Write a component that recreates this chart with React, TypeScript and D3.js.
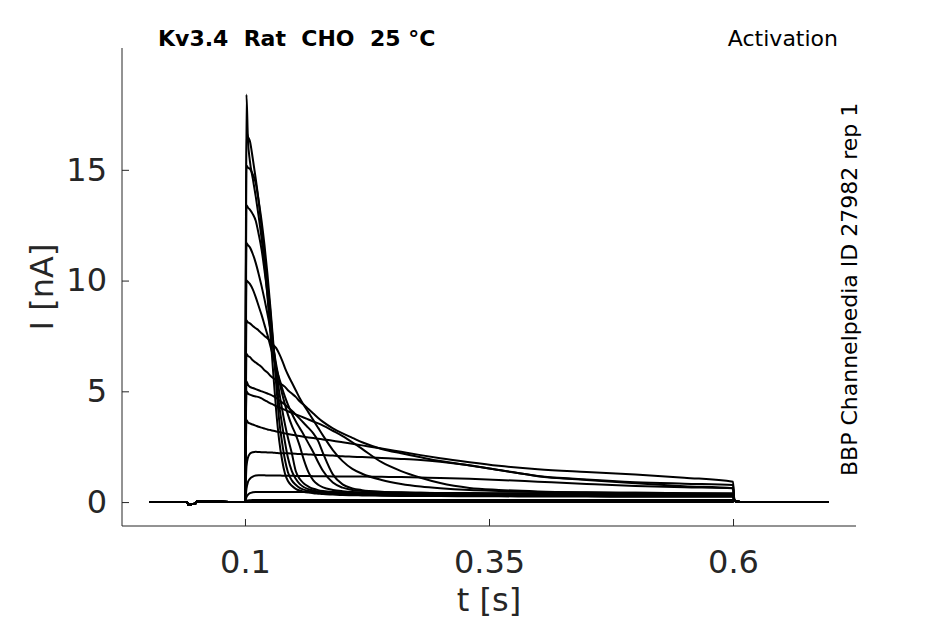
import React, { useEffect, useRef } from 'react';
import * as d3 from 'd3';

// holding potential before the step (shared by all sweeps)
const holdTime = [0.002, 0.0405, 0.042, 0.046, 0.0495, 0.051, 0.1];
const holdCurrent = [0, 0, -0.12, -0.09, -0.06, 0.04, 0];

// sample times during the test pulse [s]
const stepTime = [
  0.1015, 0.103, 0.105, 0.108, 0.111, 0.114, 0.117, 0.12, 0.123, 0.126, 0.129, 0.132, 0.135,
  0.138, 0.141, 0.144, 0.148, 0.152, 0.156, 0.16, 0.165, 0.17, 0.175, 0.18, 0.19, 0.2, 0.21,
  0.22, 0.24, 0.26, 0.28, 0.3, 0.33, 0.36, 0.4, 0.45, 0.5, 0.55, 0.6,
];

// currents during the pulse [nA], one array per sweep
const sweep1 = [18.4, 16.4, 15.4, 14.6, 13.8, 12.9, 11.9, 10.7, 9.3, 7.6, 5.8, 4.1, 2.8, 1.9, 1.28, 0.95, 0.74, 0.6, 0.52, 0.47, 0.43, 0.4, 0.38, 0.36, 0.34, 0.32, 0.31, 0.3, 0.29, 0.28, 0.27, 0.27, 0.26, 0.26, 0.25, 0.25, 0.24, 0.24, 0.24];
const sweep2 = [16.7, 16.5, 16.3, 15.5, 14.6, 13.6, 12.4, 11.1, 9.9, 8.6, 7.0, 5.3, 3.7, 2.7, 1.9, 1.35, 0.98, 0.78, 0.64, 0.56, 0.5, 0.46, 0.43, 0.41, 0.38, 0.36, 0.34, 0.33, 0.31, 0.3, 0.3, 0.29, 0.28, 0.28, 0.27, 0.27, 0.26, 0.26, 0.26];
const sweep3 = [15.2, 15.1, 15.05, 14.8, 14.4, 13.6, 12.7, 11.6, 10.3, 8.8, 7.2, 5.7, 4.4, 3.5, 2.7, 2.0, 1.4, 1.05, 0.82, 0.68, 0.58, 0.52, 0.48, 0.45, 0.41, 0.38, 0.36, 0.35, 0.33, 0.32, 0.31, 0.3, 0.3, 0.29, 0.29, 0.28, 0.28, 0.27, 0.27];
const sweep4 = [13.4, 13.3, 13.2, 13.0, 12.7, 12.1, 11.4, 10.45, 9.4, 8.1, 7.0, 6.0, 5.0, 4.2, 3.5, 2.9, 2.2, 1.4, 1.05, 0.85, 0.7, 0.6, 0.54, 0.5, 0.45, 0.42, 0.4, 0.38, 0.36, 0.34, 0.33, 0.32, 0.31, 0.31, 0.3, 0.3, 0.29, 0.29, 0.29];
const sweep5 = [11.7, 11.6, 11.5, 11.2, 10.8, 10.3, 9.75, 9.15, 8.5, 7.8, 7.0, 6.2, 5.5, 4.9, 4.4, 3.95, 3.45, 3.05, 2.55, 1.95, 1.35, 0.98, 0.78, 0.66, 0.55, 0.49, 0.45, 0.43, 0.4, 0.38, 0.36, 0.35, 0.34, 0.33, 0.33, 0.32, 0.32, 0.31, 0.31];
const sweep6 = [10.0, 9.95, 9.85, 9.6, 9.25, 8.85, 8.45, 8.0, 7.55, 7.05, 6.55, 6.05, 5.6, 5.15, 4.75, 4.4, 4.0, 3.65, 3.35, 3.05, 2.65, 2.25, 1.8, 1.4, 0.88, 0.65, 0.55, 0.5, 0.45, 0.42, 0.4, 0.38, 0.37, 0.36, 0.35, 0.34, 0.34, 0.33, 0.33];
const sweep7 = [8.2, 8.12, 8.07, 7.95, 7.85, 7.75, 7.62, 7.5, 7.4, 7.25, 7.1, 6.95, 6.7, 6.4, 6.05, 5.75, 5.4, 5.05, 4.7, 4.4, 4.05, 3.7, 3.35, 3.0, 2.35, 1.85, 1.5, 1.28, 1.0, 0.82, 0.7, 0.62, 0.54, 0.5, 0.46, 0.43, 0.42, 0.4, 0.39];
const sweep8 = [6.7, 6.6, 6.55, 6.4, 6.3, 6.2, 6.1, 5.95, 5.85, 5.7, 5.6, 5.5, 5.4, 5.3, 5.2, 5.05, 4.9, 4.75, 4.55, 4.4, 4.2, 4.0, 3.8, 3.62, 3.33, 3.1, 2.9, 2.7, 2.4, 2.2, 2.02, 1.85, 1.65, 1.45, 1.17, 1.0, 0.85, 0.72, 0.62];
const sweep9 = [5.45, 5.3, 5.2, 5.15, 5.1, 5.05, 5.0, 4.95, 4.9, 4.85, 4.78, 4.7, 4.6, 4.5, 4.4, 4.28, 4.12, 3.95, 3.77, 3.58, 3.35, 3.1, 2.75, 2.2, 1.25, 0.8, 0.62, 0.54, 0.47, 0.44, 0.42, 0.41, 0.4, 0.39, 0.38, 0.37, 0.36, 0.36, 0.35];
const sweep10 = [5.0, 4.9, 4.85, 4.8, 4.77, 4.74, 4.68, 4.6, 4.53, 4.46, 4.4, 4.33, 4.28, 4.22, 4.16, 4.1, 4.03, 3.96, 3.89, 3.82, 3.73, 3.64, 3.55, 3.45, 3.22, 2.98, 2.7, 2.4, 1.8, 1.4, 1.1, 0.86, 0.64, 0.55, 0.48, 0.44, 0.42, 0.4, 0.39];
const sweep11 = [3.7, 3.6, 3.55, 3.5, 3.45, 3.4, 3.36, 3.32, 3.28, 3.25, 3.22, 3.19, 3.16, 3.13, 3.1, 3.07, 3.04, 3.01, 2.98, 2.95, 2.92, 2.89, 2.86, 2.83, 2.77, 2.7, 2.63, 2.56, 2.42, 2.27, 2.12, 1.98, 1.8, 1.64, 1.48, 1.36, 1.25, 1.1, 0.92];
const sweep12 = [1.6, 2.0, 2.18, 2.25, 2.27, 2.26, 2.25, 2.25, 2.24, 2.24, 2.23, 2.22, 2.21, 2.21, 2.2, 2.2, 2.19, 2.18, 2.17, 2.16, 2.15, 2.14, 2.13, 2.12, 2.1, 2.07, 2.05, 2.03, 1.99, 1.95, 1.9, 1.82, 1.66, 1.45, 1.18, 1.02, 0.9, 0.83, 0.77];
const sweep13 = [0.6, 0.9, 1.05, 1.15, 1.2, 1.21, 1.21, 1.21, 1.2, 1.2, 1.2, 1.2, 1.2, 1.19, 1.19, 1.19, 1.19, 1.18, 1.18, 1.18, 1.18, 1.17, 1.17, 1.17, 1.16, 1.16, 1.15, 1.15, 1.14, 1.13, 1.11, 1.09, 1.05, 1.0, 0.92, 0.82, 0.73, 0.67, 0.62];
const sweep14 = [0.22, 0.33, 0.4, 0.44, 0.46, 0.46, 0.46, 0.46, 0.46, 0.46, 0.46, 0.46, 0.46, 0.45, 0.45, 0.45, 0.45, 0.45, 0.45, 0.45, 0.45, 0.44, 0.44, 0.44, 0.44, 0.44, 0.43, 0.43, 0.43, 0.42, 0.42, 0.41, 0.41, 0.4, 0.4, 0.39, 0.38, 0.37, 0.36];
const sweep15 = [0.05, 0.07, 0.08, 0.09, 0.09, 0.09, 0.09, 0.09, 0.09, 0.09, 0.09, 0.09, 0.09, 0.09, 0.09, 0.09, 0.09, 0.09, 0.09, 0.09, 0.09, 0.09, 0.09, 0.09, 0.09, 0.09, 0.09, 0.09, 0.09, 0.09, 0.09, 0.09, 0.09, 0.09, 0.09, 0.09, 0.09, 0.09, 0.09];
const sweep16 = [0.02, 0.03, 0.03, 0.03, 0.03, 0.03, 0.03, 0.03, 0.03, 0.03, 0.03, 0.03, 0.03, 0.03, 0.03, 0.03, 0.03, 0.03, 0.03, 0.03, 0.03, 0.03, 0.03, 0.03, 0.03, 0.03, 0.03, 0.03, 0.03, 0.03, 0.03, 0.03, 0.03, 0.03, 0.03, 0.03, 0.03, 0.03, 0.03];
const sweep17 = [0, 0, 0, 0, 0, 0, 0, 0, 0, 0, 0, 0, 0, 0, 0, 0, 0, 0, 0, 0, 0, 0, 0, 0, 0, 0, 0, 0, 0, 0, 0, 0, 0, 0, 0, 0, 0, 0, 0];

// after the pulse, back to holding
const tailTime = [0.6015, 0.605, 0.61, 0.698];
const tailCurrent = [0.06, 0.02, 0, 0];

const sweeps = [
  sweep1, sweep2, sweep3, sweep4, sweep5, sweep6, sweep7, sweep8, sweep9,
  sweep10, sweep11, sweep12, sweep13, sweep14, sweep15, sweep16, sweep17,
];

const xTicks = [0.1, 0.35, 0.6];
const yTicks = [0, 5, 10, 15];

const title = 'Kv3.4  Rat  CHO  25 °C';
const protocol = 'Activation';
const sourceLabel = 'BBP Channelpedia ID 27982 rep 1';

const FONT = '"DejaVu Sans", sans-serif';
const AXIS_COLOR = '#262626';

const App: React.FC = () => {
  const svgRef = useRef<SVGSVGElement>(null);
  const width = 945;
  const height = 624;
  const margin = { top: 48, right: 89, bottom: 98, left: 122 };

  useEffect(() => {
    if (!svgRef.current) return;
    const svg = d3.select(svgRef.current);
    svg.selectAll('*').remove();

    const x = d3.scaleLinear().domain([-0.026, 0.726]).range([margin.left, width - margin.right]);
    const y = d3.scaleLinear().domain([-1.08, 20.5]).range([height - margin.bottom, margin.top]);

    const line = d3
      .line<[number, number]>()
      .x(d => x(d[0]))
      .y(d => y(d[1]))
      .curve(d3.curveMonotoneX);

    const traces = svg.append('g').attr('class', 'traces');
    sweeps.forEach(values => {
      const pts: [number, number][] = [
        ...holdTime.map((t, i) => [t, holdCurrent[i]] as [number, number]),
        ...stepTime.map((t, i) => [t, values[i]] as [number, number]),
        ...tailTime.map((t, i) => [t, tailCurrent[i]] as [number, number]),
      ];
      traces
        .append('path')
        .attr('d', line(pts) || '')
        .attr('fill', 'none')
        .attr('stroke', '#000')
        .attr('stroke-width', 2)
        .attr('stroke-linejoin', 'round');
    });

    // axes, ticks pointing inwards
    const xAxis = d3
      .axisBottom(x)
      .tickValues(xTicks)
      .tickFormat(d => String(d))
      .tickSizeInner(-7)
      .tickSizeOuter(0)
      .tickPadding(24);
    const gx = svg
      .append('g')
      .attr('transform', `translate(0,${height - margin.bottom})`)
      .call(xAxis);

    const yAxis = d3
      .axisLeft(y)
      .tickValues(yTicks)
      .tickFormat(d => String(d))
      .tickSizeInner(-7)
      .tickSizeOuter(0)
      .tickPadding(15);
    const gy = svg.append('g').attr('transform', `translate(${margin.left},0)`).call(yAxis);

    [gx, gy].forEach(g => {
      g.select('.domain').attr('stroke', AXIS_COLOR).attr('stroke-width', 1);
      g.selectAll('.tick line').attr('stroke', AXIS_COLOR).attr('stroke-width', 1);
      g.selectAll('.tick text')
        .attr('fill', AXIS_COLOR)
        .style('font-family', FONT)
        .style('font-size', '32px');
    });
    gy.select('.domain').attr('d', `M0,${margin.top}V${height - margin.bottom}`);
    gx.select('.domain').attr('d', `M${margin.left},0H${width - margin.right}`);

    // axis labels
    svg
      .append('text')
      .attr('x', (margin.left + width - margin.right) / 2)
      .attr('y', 611)
      .attr('text-anchor', 'middle')
      .attr('fill', AXIS_COLOR)
      .style('font-family', FONT)
      .style('font-size', '32px')
      .text('t [s]');

    svg
      .append('text')
      .attr('transform', `translate(53,${(margin.top + height - margin.bottom) / 2}) rotate(-90)`)
      .attr('text-anchor', 'middle')
      .attr('fill', AXIS_COLOR)
      .style('font-family', FONT)
      .style('font-size', '32px')
      .text('I [nA]');

    // header texts
    svg
      .append('text')
      .attr('x', 158)
      .attr('y', 46)
      .attr('fill', '#000')
      .style('font-family', FONT)
      .style('font-size', '22px')
      .style('font-weight', 'bold')
      .style('white-space', 'pre')
      .text(title);

    svg
      .append('text')
      .attr('x', 838)
      .attr('y', 46)
      .attr('text-anchor', 'end')
      .attr('fill', '#000')
      .style('font-family', FONT)
      .style('font-size', '22px')
      .text(protocol);

    svg
      .append('text')
      .attr('transform', `translate(857,476) rotate(-90)`)
      .attr('fill', '#000')
      .style('font-family', FONT)
      .style('font-size', '22px')
      .text(sourceLabel);
  }, []);

  return (
    <svg
      ref={svgRef}
      width={width}
      height={height}
      style={{ position: 'absolute', left: 0, top: 0, background: '#fff' }}
    />
  );
};

export default App;
